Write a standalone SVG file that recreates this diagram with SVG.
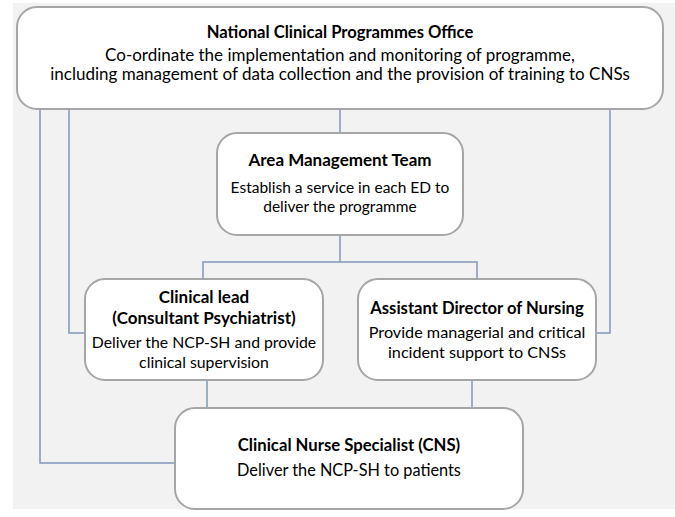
<svg xmlns="http://www.w3.org/2000/svg" width="675" height="517" viewBox="0 0 675 517">
<style>
.box{fill:#ffffff;stroke:#a6a6a6;stroke-width:2}
.t{font-family:Lato,"Open Sans","Liberation Sans",sans-serif;font-size:17px;fill:#000;text-anchor:middle}
.b{font-weight:bold}
.c{fill:none;stroke:#8197bb;stroke-width:1.5}
</style>
<rect x="0" y="0" width="675" height="517" fill="#ffffff"/>
<rect x="13" y="3" width="662" height="506" fill="#f2f2f2"/>
<g id="connectors">
<path class="c" d="M340 109V133"/>
<path class="c" d="M340 235V262M203 280V262H477V280"/>
<path class="c" d="M207 380V408"/>
<path class="c" d="M472 380V408"/>
<path class="c" d="M40 109V463H175"/>
<path class="c" d="M69 109V333H85"/>
<path class="c" d="M610 109V333H596"/>
</g>
<g id="ncpo">
<rect class="box" x="17" y="7" width="646" height="102" rx="20"/>
<text class="t b" x="340" y="38" style="font-size:16.6px">National Clinical Programmes Office</text>
<text class="t" x="340" y="61">Co-ordinate the implementation and monitoring of programme,</text>
<text class="t" x="340" y="80">including management of data collection and the provision of training to CNSs</text>
</g>
<g id="amt">
<rect class="box" x="217" y="133" width="246" height="102" rx="20"/>
<text class="t b" x="340" y="166">Area Management Team</text>
<text class="t" x="340" y="193" style="font-size:15.5px">Establish a service in each ED to</text>
<text class="t" x="340" y="212" style="font-size:15.5px">deliver the programme</text>
</g>
<g id="clinical-lead">
<rect class="box" x="85" y="279" width="238" height="101" rx="20"/>
<text class="t b" x="204" y="303">Clinical lead</text>
<text class="t b" x="204" y="324">(Consultant Psychiatrist)</text>
<text class="t" x="204" y="348" style="font-size:15.8px">Deliver the NCP-SH and provide</text>
<text class="t" x="204" y="368" style="font-size:15.8px">clinical supervision</text>
</g>
<g id="adn">
<rect class="box" x="358" y="279" width="238" height="101" rx="20"/>
<text class="t b" x="477" y="314" style="font-size:16.6px">Assistant Director of Nursing</text>
<text class="t" x="477" y="338" style="font-size:16.2px">Provide managerial and critical</text>
<text class="t" x="477" y="358" style="font-size:16.2px">incident support to CNSs</text>
</g>
<g id="cns">
<rect class="box" x="175" y="408" width="348" height="101" rx="20"/>
<text class="t b" x="349" y="451" style="font-size:16.7px">Clinical Nurse Specialist (CNS)</text>
<text class="t" x="349" y="476" style="font-size:16.3px">Deliver the NCP-SH to patients</text>
</g>
</svg>
